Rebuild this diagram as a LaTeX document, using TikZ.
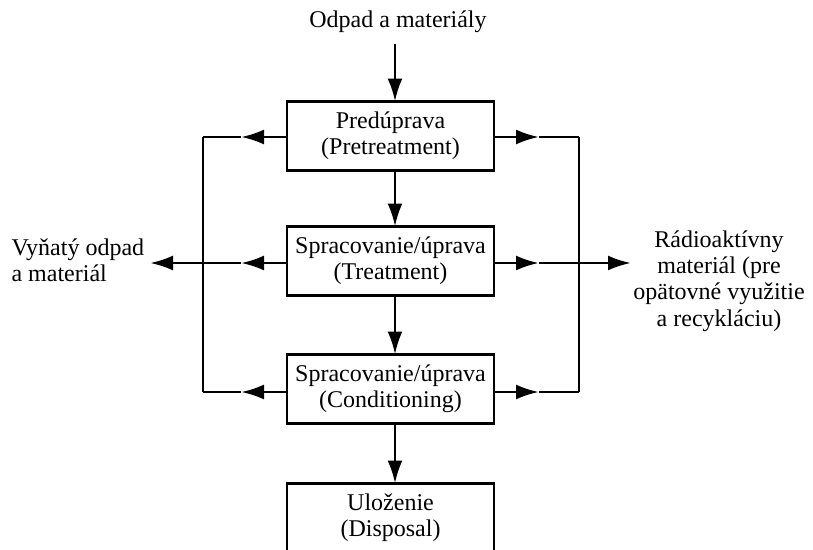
\documentclass[tikz,border=0pt]{standalone}
\usepackage{fontspec}
\setmainfont{Liberation Serif}
\usetikzlibrary{arrows.meta}
\begin{document}
\begin{tikzpicture}[x=1pt,y=-1pt,
  every node/.style={font=\fontsize{24}{26.3}\selectfont, text=black},
  stage/.style={draw, line width=2.8pt, minimum width=207pt, minimum height=69pt,
    inner sep=0pt, align=center},
  flow/.style={line width=2.8pt, -{Latex[length=23pt,width=15pt]}},
  link/.style={line width=2.8pt}]
\useasboundingbox (0,0) rectangle (813,549);
\clip (0,0) rectangle (813,549);

% process stages
\node[stage] (pre)  at (390.5,136) {Predúprava\\(Pretreatment)};
\node[stage] (trt)  at (390.5,261) {Spracovanie/úprava\\(Treatment)};
\node[stage] (cond) at (390.5,389) {Spracovanie/úprava\\(Conditioning)};
\node[stage] (disp) at (390.5,518) {Uloženie\\(Disposal)};

% external inputs and outputs
\node (in) at (398,22) {Odpad a materiály};
\node[align=left, anchor=west] (excl) at (8,260) {Vyňatý odpad\\a materiál};
\node[align=center] (radio) at (719,281) {Rádioaktívny\\materiál (pre\\opätovné využitie\\a recykláciu)};

% main vertical flow
\coordinate (inend) at (395,44);
\draw[flow] (inend) -- (395,101.5);
\draw[flow] (395,170.5) -- (395,226.5);
\draw[flow] (395,295.5) -- (395,354.5);
\draw[flow] (395,423.5) -- (395,483.5);

% left collector
\coordinate (lt) at (203,137);
\coordinate (lb) at (203,392);
\coordinate (lm1) at (241,137);
\coordinate (lm2) at (241,263);
\coordinate (lm3) at (241,392);
\coordinate (lout) at (150,263);
\draw[link] (lt) -- (lb);
\draw[flow] (pre.west |- lt) -- (lm1);
\draw[link] (lm1) -- (lt);
\draw[flow] (cond.west |- lb) -- (lm3);
\draw[link] (lm3) -- (lb);
\draw[flow] (trt.west |- lm2) -- (lm2);
\draw[flow] (lm2) -- (lout);

% right collector
\coordinate (rt) at (579,137);
\coordinate (rb) at (579,392);
\coordinate (rm1) at (539,137);
\coordinate (rm2) at (539,263);
\coordinate (rm3) at (539,392);
\coordinate (rout) at (631,263);
\draw[link] (rt) -- (rb);
\draw[flow] (pre.east |- rt) -- (rm1);
\draw[link] (rm1) -- (rt);
\draw[flow] (cond.east |- rb) -- (rm3);
\draw[link] (rm3) -- (rb);
\draw[flow] (trt.east |- rm2) -- (rm2);
\draw[flow] (rm2) -- (rout);
\end{tikzpicture}
\end{document}
